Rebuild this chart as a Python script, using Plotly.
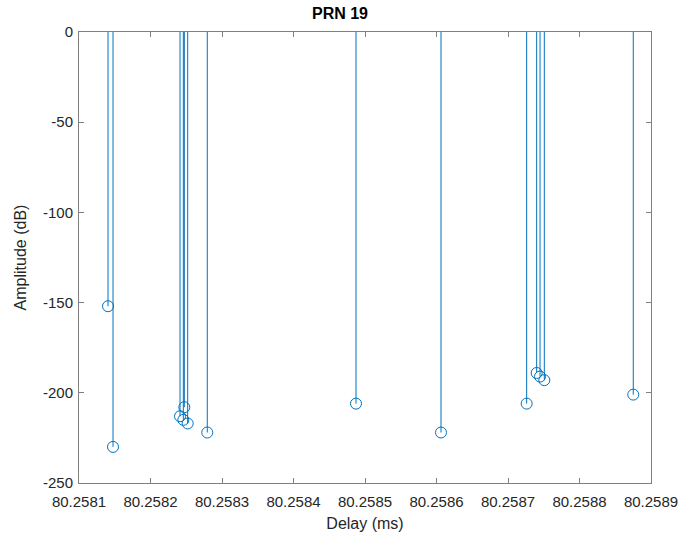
import plotly.graph_objects as go

delay_ms = [80.2581406, 80.2581476, 80.2582413, 80.2582459, 80.2582473, 80.2582520,
            80.2582794, 80.2584874, 80.2586063, 80.2587261, 80.2587401, 80.2587448,
            80.2587508, 80.2588752]
amp_db = [-152, -230, -213, -215, -208, -217, -222, -206, -222, -206, -189, -191, -193, -201]

x_ticks = [80.2581, 80.2582, 80.2583, 80.2584, 80.2585, 80.2586, 80.2587, 80.2588, 80.2589]
y_ticks = [0, -50, -100, -150, -200, -250]

color = "#0072BD"
axis_col = "#262626"

sx, sy = [], []
for x, y in zip(delay_ms, amp_db):
    sx += [x, x, None]
    sy += [0, y, None]

fig = go.Figure()
fig.add_trace(go.Scatter(x=sx, y=sy, mode="lines", line=dict(color=color, width=1),
                         hoverinfo="skip", showlegend=False))
fig.add_trace(go.Scatter(x=delay_ms, y=amp_db, mode="markers",
                         marker=dict(symbol="circle-open", size=11, color=color,
                                     line=dict(width=1, color=color)),
                         showlegend=False))

fig.update_layout(
    width=680, height=536,
    margin=dict(l=79, r=29, t=32, b=53, autoexpand=False),
    paper_bgcolor="white", plot_bgcolor="white",
    font=dict(family="Liberation Sans, Arial, sans-serif", size=14, color=axis_col),
    title=dict(text="<b>PRN 19</b>", x=0.5, xanchor="center", y=0.985, yanchor="top",
               font=dict(size=16, color="black")),
)
fig.update_xaxes(range=[80.2581, 80.2589], tickvals=x_ticks,
                 ticktext=[f"{v:.4f}" for v in x_ticks], automargin=False,
                 showgrid=False, zeroline=False, showline=True, linecolor="#808080",
                 linewidth=1, mirror="ticks", ticks="inside", ticklen=5,
                 ticklabelstandoff=5,
                 tickcolor="#808080", title=dict(text="Delay (ms)", standoff=8,
                 font=dict(size=16)), tickfont=dict(size=15))
fig.update_yaxes(range=[-250, 0], tickvals=y_ticks,
                 ticktext=[str(v) for v in y_ticks], automargin=False,
                 showgrid=False, zeroline=False, showline=True, linecolor="#808080",
                 linewidth=1, mirror="ticks", ticks="inside", ticklen=5,
                 ticklabelstandoff=2,
                 tickcolor="#808080", title=dict(text="Amplitude (dB)", standoff=12,
                 font=dict(size=16)), tickfont=dict(size=15))

fig.write_html("out.html")
